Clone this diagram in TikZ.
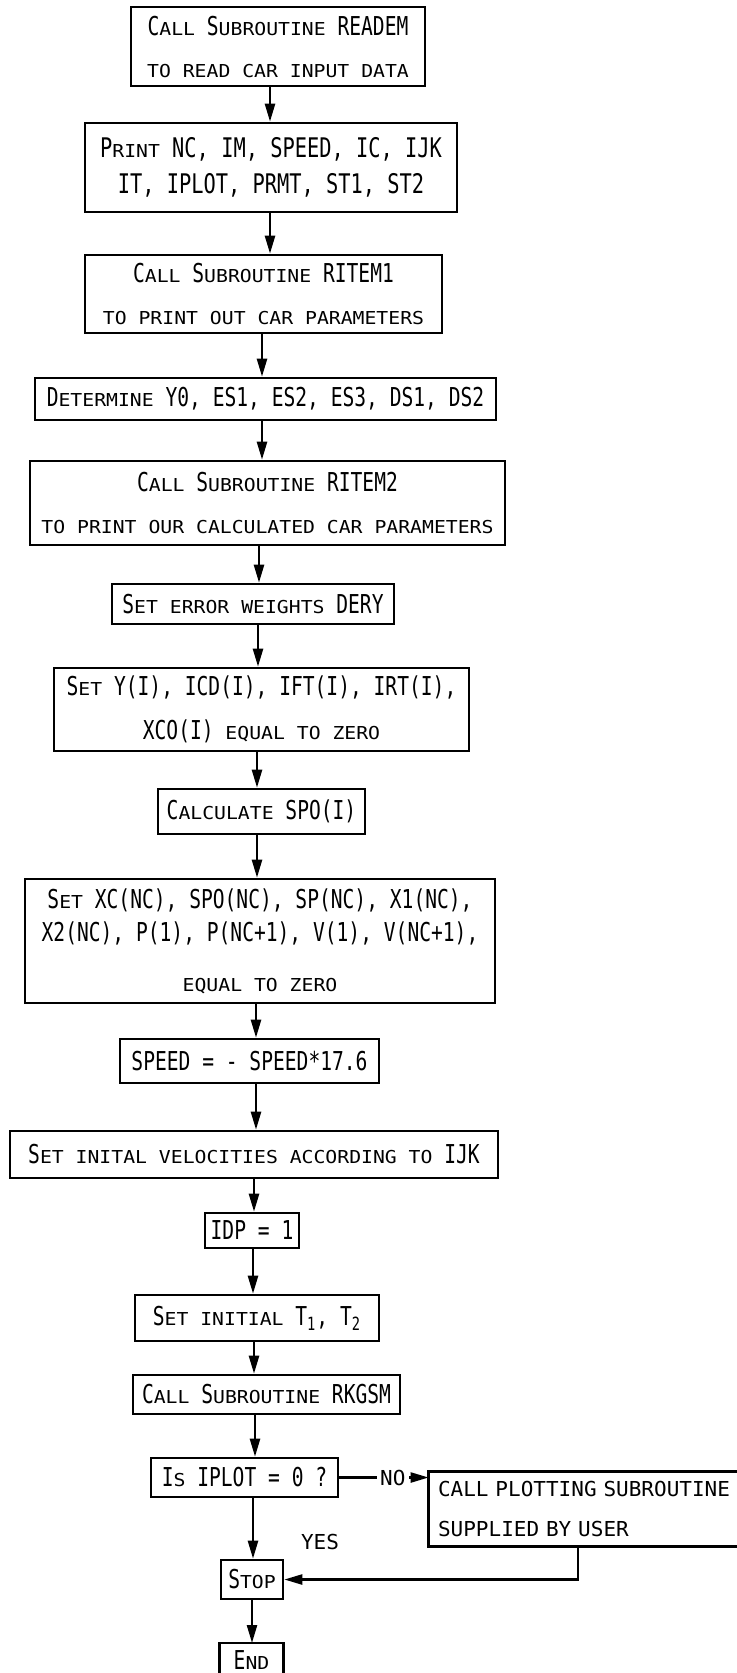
\documentclass[tikz,border=0pt]{standalone}
\usepackage{fontspec}
\setmainfont{DejaVu Sans Mono}[FakeStretch=0.754]
\newfontfamily\smfam{DejaVu Sans Mono}[FakeStretch=1.11]
\newfontfamily\plotfam{DejaVu Sans Mono}[FakeStretch=1.02]
\newcommand\sm[1]{{\fontsize{8.9}{10}\smfam\MakeUppercase{#1}}}
\usetikzlibrary{arrows.meta, positioning}

\begin{document}
\begin{tikzpicture}[
    x=0.5pt, y=-0.5pt,
    >={Triangle[length=9pt, width=5pt]},
    font=\fontsize{13}{21}\selectfont,
    box/.style={draw, line width=1.3pt, inner sep=0pt, align=center},
    arr/.style={->, line width=1.2pt},
    lbl/.style={font=\fontsize{10.3}{12}\plotfam},
]
\useasboundingbox (0,0) rectangle (737,1673);

\node[box, minimum width=147pt, minimum height=39.5pt] (readem) at (278,46.5) {C\sm{all} S\sm{ubroutine} READEM\\\sm{to read car input data}};
\node[box, minimum width=186pt, minimum height=44.5pt, font=\fontsize{13.5}{18}\selectfont] (print) at (271,167.5) {P\sm{rint} NC, IM, SPEED, IC, IJK\\IT, IPLOT, PRMT, ST1, ST2};
\node[box, minimum width=178.5pt, minimum height=39pt] (ritem1) at (263.5,294) {C\sm{all} S\sm{ubroutine} RITEM1\\\sm{to print out car parameters}};
\node[box, minimum width=230.5pt, minimum height=21pt] (determ) at (265.5,399) {D\sm{etermine} Y0, ES1, ES2, ES3, DS1, DS2};
\node[box, minimum width=237.5pt, minimum height=42pt] (ritem2) at (267.5,503) {C\sm{all} S\sm{ubroutine} RITEM2\\\sm{to print our calculated car parameters}};
\node[box, minimum width=141pt, minimum height=20pt] (dery) at (253,604) {S\sm{et error weights} DERY};
\node[box, minimum width=207.5pt, minimum height=41.5pt, font=\fontsize{13}{22}\selectfont] (sety) at (261.5,709.5) {S\sm{et} Y(I), ICD(I), IFT(I), IRT(I),\\XCO(I) \sm{equal to zero}};
\node[box, minimum width=103.5pt, minimum height=22.5pt] (spo) at (261.5,811.5) {C\sm{alculate} SPO(I)};
\node[box, minimum width=235pt, minimum height=62pt, font=\fontsize{13}{16.5}\selectfont] (setxc) at (260,941) {S\sm{et} XC(NC), SPO(NC), SP(NC), X1(NC),\\X2(NC), P(1), P(NC+1), V(1), V(NC+1),\\[8.5pt]\sm{equal to zero}};
\node[box, minimum width=129.5pt, minimum height=22pt] (speed) at (249.5,1061) {SPEED = - SPEED*17.6};
\node[box, minimum width=244pt, minimum height=23.5pt] (velo) at (254,1154.5) {S\sm{et inital velocities according to} IJK};
\node[box, minimum width=47pt, minimum height=17.5pt] (idp) at (252,1230.5) {IDP = 1};
\node[box, minimum width=122pt, minimum height=23pt] (initt) at (257,1318) {S\sm{et initial} T\textsubscript{1}, T\textsubscript{2}};
\node[box, minimum width=133.5pt, minimum height=19.5pt] (rkgsm) at (266.5,1394.5) {C\sm{all} S\sm{ubroutine} RKGSM};
\node[box, minimum width=93.5pt, minimum height=19.5pt] (iplot) at (244.5,1477.5) {I\sm{s} IPLOT = 0 ?};
\node[inner xsep=4.5pt, inner ysep=0pt, minimum height=37pt, text width=152pt, align=left, font=\fontsize{10.3}{20}\plotfam] (plot) at (590,1509) {CALL PLOTTING SUBROUTINE\\SUPPLIED BY USER};
\node[box, minimum width=31pt, minimum height=19.5pt] (stop) at (252,1579.5) {S\sm{top}};
\node[inner sep=0pt, minimum width=31.5pt, minimum height=17pt, anchor=north] (endbox) at (251.5,1643) {E\sm{nd}};
\node[lbl] (yes) at (320,1542) {YES};

% open boxes cut by the page edge
\draw[line width=1.3pt] (plot.north east) -- (plot.north west) -- (plot.south west) -- (plot.south east);
\draw[line width=1.3pt] (endbox.west |- 0,1675) -- (endbox.north west) -- (endbox.north east) -- (endbox.east |- 0,1675);

\draw[arr] (readem.south -| 270,0) -- (print.north -| 270,0);
\draw[arr] (print.south -| 270,0) -- (ritem1.north -| 270,0);
\draw[arr] (ritem1.south -| 262,0) -- (determ.north -| 262,0);
\draw[arr] (determ.south -| 262,0) -- (ritem2.north -| 262,0);
\draw[arr] (ritem2.south -| 259,0) -- (dery.north -| 259,0);
\draw[arr] (dery.south -| 258,0) -- (sety.north -| 258,0);
\draw[arr] (sety.south -| 257,0) -- (spo.north -| 257,0);
\draw[arr] (spo.south -| 257,0) -- (setxc.north -| 257,0);
\draw[arr] (setxc.south -| 256,0) -- (speed.north -| 256,0);
\draw[arr] (speed.south -| 256,0) -- (velo.north -| 256,0);
\draw[arr] (velo.south -| 254,0) -- (idp.north -| 254,0);
\draw[arr] (idp.south -| 253,0) -- (initt.north -| 253,0);
\draw[arr] (initt.south -| 254,0) -- (rkgsm.north -| 254,0);
\draw[arr] (rkgsm.south -| 255,0) -- (iplot.north -| 255,0);
\draw[arr] (iplot.south -| 253,0) -- (stop.north -| 253,0);
\draw[arr] (stop.south -| 252,0) -- (endbox.north -| 252,0);
\draw[arr] (iplot.east) -- node[lbl, fill=white, inner sep=1.5pt, pos=0.6] {NO} (plot.west |- iplot.east);
\draw[arr] (plot.south -| 578,0) |- (stop.east);
\end{tikzpicture}
\end{document}
